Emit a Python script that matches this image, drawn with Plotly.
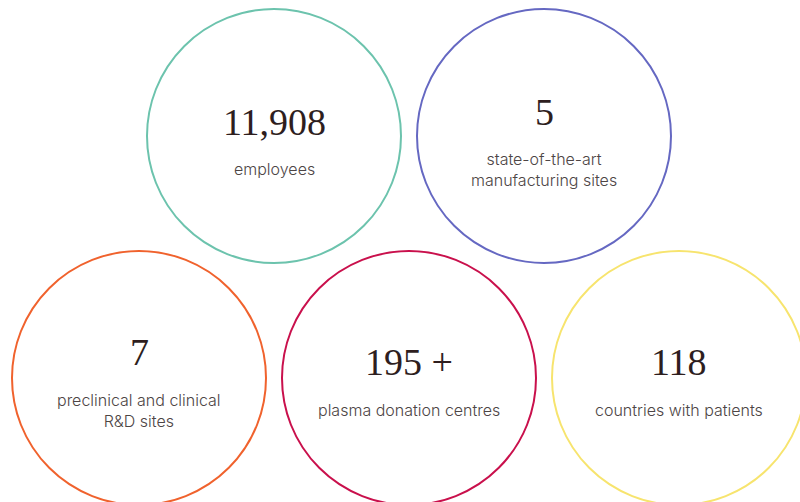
import plotly.graph_objects as go

# Data
values = ["11,908", "5", "7", "195 +", "118"]
labels = ["employees", "state-of-the-art<br>manufacturing sites",
          "preclinical and clinical<br>R&D sites", "plasma donation centres",
          "countries with patients"]
colors = ["#6cc3ad", "#6568c2", "#f0622d", "#c9104c", "#f7e46e"]

# Layout grid (pixels)
W, H = 800, 502
row = [0, 0, 1, 1, 1]
col = [0.5, 1.5, 0, 1, 2]
x0, dx = 139, 270
y0, dy = 136, 242
diam = 254

xs = [x0 + dx * c for c in col]
ys = [y0 + dy * r for r in row]

fig = go.Figure()
fig.add_trace(go.Scatter(
    x=xs, y=ys, mode="markers",
    marker=dict(size=diam, color="rgba(255,255,255,0)",
                line=dict(color=colors, width=2)),
    hoverinfo="skip", showlegend=False, cliponaxis=True))

for i in range(len(values)):
    two = "<br>" in labels[i]
    off_num = (-24 if two else -14) - 2 * row[i]
    off_lab = 33 - row[i]
    fig.add_annotation(x=xs[i], y=ys[i] + off_num, text=values[i], showarrow=False,
                       xanchor="center", yanchor="middle",
                       font=dict(family="Liberation Serif", size=38, color="#2e1e1e"))
    fig.add_annotation(x=xs[i], y=ys[i] + off_lab, text=labels[i], showarrow=False,
                       xanchor="center", yanchor="middle",
                       font=dict(family="Inter", size=16, weight=300, color="#4d4545"))

fig.update_layout(
    width=W, height=H, margin=dict(l=0, r=0, t=0, b=0),
    paper_bgcolor="white", plot_bgcolor="white",
    xaxis=dict(range=[0, W], visible=False, fixedrange=True),
    yaxis=dict(range=[H, 0], visible=False, fixedrange=True),
)
fig.write_html("out.html")
